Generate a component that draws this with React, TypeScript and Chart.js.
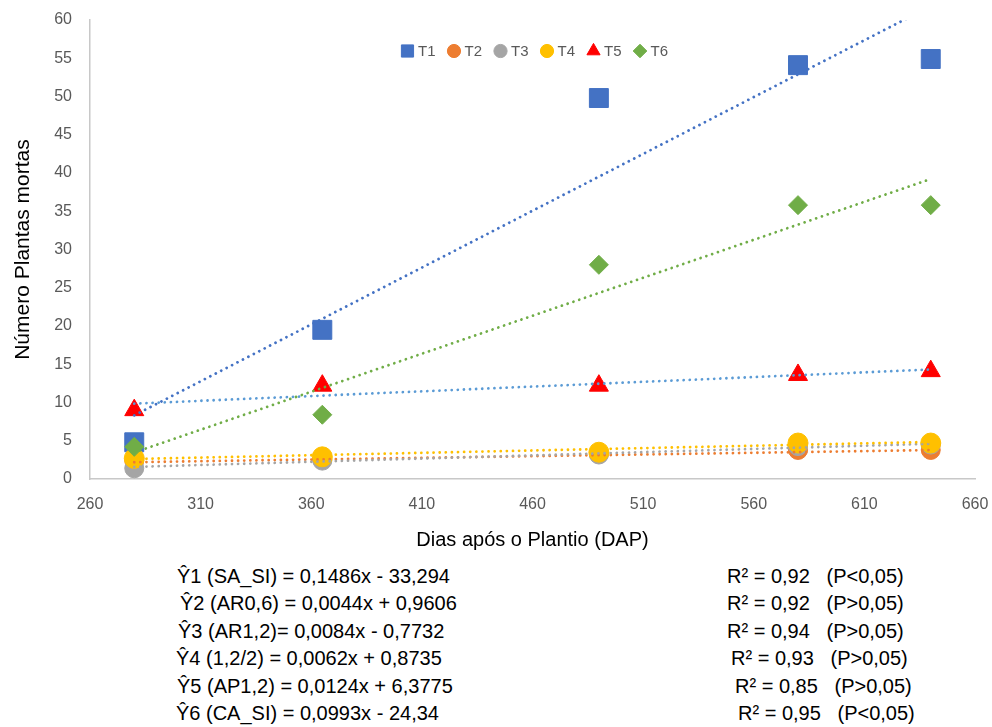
import React, { useEffect, useRef } from "react";
import { Chart, registerables } from "chart.js";
import { drawPoint } from "chart.js/helpers";

Chart.register(...registerables);

// ---------- data ----------
const days = [280, 365, 490, 580, 640];
const seriesNames = ["T1", "T2", "T3", "T4", "T5", "T6"];
const t1 = [4.8, 19.5, 49.8, 54.1, 54.9];
const t2 = [2.4, 2.6, 3.3, 3.8, 3.8];
const t3 = [1.4, 2.4, 3.2, 4.3, 4.5];
const t4 = [2.7, 2.9, 3.5, 4.7, 4.7];
const t5 = [9.0, 12.2, 12.2, 13.6, 14.1];
const t6 = [4.2, 8.4, 28.0, 35.8, 35.8];
const seriesValues = [t1, t2, t3, t4, t5, t6];

// trendline coefficients (as printed under the chart)
const slopes = [0.1486, 0.0044, 0.0084, 0.0062, 0.0124, 0.0993];
const intercepts = [-33.294, 0.9606, -0.7732, 0.8735, 6.3775, -24.34];

const xMin = 260;
const xMax = 660;
const xStep = 50;
const yMin = 0;
const yMax = 60;
const yStep = 5;

const xTitle = "Dias após o Plantio (DAP)";
const yTitle = "Número Plantas mortas";

const equations = [
  "Ŷ1 (SA_SI) = 0,1486x - 33,294",
  "Ŷ2 (AR0,6) = 0,0044x + 0,9606",
  "Ŷ3 (AR1,2)= 0,0084x - 0,7732",
  "Ŷ4 (1,2/2) = 0,0062x + 0,8735",
  "Ŷ5 (AP1,2) = 0,0124x + 6,3775",
  "Ŷ6 (CA_SI) = 0,0993x - 24,34",
];
const rSquared = [
  "R² = 0,92   (P<0,05)",
  "R² = 0,92   (P>0,05)",
  "R² = 0,94   (P>0,05)",
  "R² = 0,93   (P>0,05)",
  "R² = 0,85   (P>0,05)",
  "R² = 0,95   (P<0,05)",
];

// ---------- styles ----------
const markerColors = ["#4472C4", "#ED7D31", "#A5A5A5", "#FFC000", "#FF0000", "#70AD47"];
const trendColors = ["#4472C4", "#ED7D31", "#A5A5A5", "#FFC000", "#5B9BD5", "#70AD47"];
const pointStyles = ["rect", "circle", "circle", "circle", "triangle", "rectRot"];
const pointRadii = [13.4, 9.5, 9.5, 10, 11, 9.5];
const legendRadii = [8.6, 6.6, 6.6, 6.6, 7.6, 6.8];

const eqLayout = [
  { x: 177, rx: 727, y: 576 },
  { x: 180, rx: 727, y: 603 },
  { x: 178, rx: 727, y: 631 },
  { x: 176, rx: 731, y: 658 },
  { x: 177, rx: 735, y: 686 },
  { x: 176, rx: 738, y: 713 },
];

const FONT = "'Liberation Sans', Arial, sans-serif";

const legendPlugin = {
  id: "insideLegend",
  afterDraw(chart: any) {
    const ctx = chart.ctx as CanvasRenderingContext2D;
    const { left, right } = chart.chartArea;
    ctx.save();
    ctx.font = `15px ${FONT}`;
    const markerW = 13;
    const gapText = 4;
    const spacing = 12;
    const widths = seriesNames.map((n) => markerW + gapText + ctx.measureText(n).width);
    const total = widths.reduce((a, b) => a + b, 0) + spacing * (seriesNames.length - 1);
    let x = (left + right) / 2 + 2 - total / 2;
    const y = 51;
    seriesNames.forEach((n, i) => {
      ctx.fillStyle = markerColors[i];
      ctx.strokeStyle = markerColors[i];
      ctx.lineWidth = 1;
      drawPoint(
        ctx,
        { pointStyle: pointStyles[i] as any, radius: legendRadii[i], rotation: 0, borderWidth: 1 },
        x + markerW / 2,
        y
      );
      ctx.fillStyle = "#595959";
      ctx.textBaseline = "middle";
      ctx.textAlign = "left";
      ctx.fillText(n, x + markerW + gapText, y + 1);
      x += widths[i] + spacing;
    });
    ctx.restore();
  },
};

export default function App() {
  const ref = useRef<HTMLCanvasElement>(null);

  useEffect(() => {
    const markerSets = seriesNames.map((name, i) => ({
      label: name,
      data: days.map((d, j) => ({ x: d, y: seriesValues[i][j] })),
      showLine: false,
      pointStyle: pointStyles[i],
      pointRadius: pointRadii[i],
      pointHoverRadius: pointRadii[i],
      backgroundColor: markerColors[i],
      borderColor: markerColors[i],
      pointBorderWidth: 1,
      borderWidth: 1,
      order: 20 - i,
    }));
    const lo = Math.min(...days);
    const hi = Math.max(...days);
    const trendSets = seriesNames.map((name, i) => ({
      label: "trend " + name,
      data: [lo, hi].map((x) => ({ x, y: slopes[i] * x + intercepts[i] })),
      showLine: true,
      pointRadius: 0,
      pointHoverRadius: 0,
      borderColor: trendColors[i],
      backgroundColor: trendColors[i],
      borderWidth: 2.8,
      borderDash: [0.01, 6.1],
      borderCapStyle: "round",
      fill: false,
      order: 6 - i,
    }));

    const chart = new Chart(ref.current!, {
      type: "scatter",
      data: { datasets: [...markerSets, ...trendSets] as any },
      plugins: [legendPlugin],
      options: {
        responsive: false,
        animation: false,
        events: [],
        layout: { padding: { left: 0, right: 17, top: 20, bottom: 0 } },
        plugins: {
          tooltip: { enabled: false },
          legend: { display: false },
        },
        scales: {
          x: {
            type: "linear",
            min: xMin,
            max: xMax,
            afterFit: (s: any) => {
              s.height = 81;
              s.paddingLeft = 0;
              s.paddingRight = 0;
            },
            ticks: {
              stepSize: xStep,
              color: "#595959",
              font: { family: FONT, size: 16 },
              padding: 16,
            },
            grid: { display: false, drawTicks: false },
            border: { display: true, color: "#C8C8C8", width: 1.5 },
            title: {
              display: true,
              text: xTitle,
              color: "#000000",
              font: { family: FONT, size: 20 },
              padding: { top: 0, bottom: 8 },
            },
          },
          y: {
            type: "linear",
            min: yMin,
            max: yMax,
            afterFit: (s: any) => {
              s.width = 90;
              s.paddingTop = 0;
              s.paddingBottom = 0;
            },
            ticks: {
              stepSize: yStep,
              color: "#595959",
              font: { family: FONT, size: 16 },
              padding: 18,
            },
            grid: { display: false, drawTicks: false },
            border: { display: true, color: "#C8C8C8", width: 1.5 },
            title: {
              display: true,
              text: yTitle,
              color: "#000000",
              font: { family: FONT, size: 21 },
              padding: { top: 11, bottom: 0 },
            },
          },
        },
      },
    });
    return () => chart.destroy();
  }, []);

  return (
    <div
      style={{
        position: "fixed",
        left: 0,
        top: 0,
        width: 992,
        height: 727,
        background: "#ffffff",
        overflow: "hidden",
      }}
    >
      <canvas
        ref={ref}
        width={992}
        height={560}
        style={{ position: "absolute", left: 0, top: 0, width: 992, height: 560 }}
      />
      {equations.map((eq, i) => (
        <div
          key={"eq" + i}
          style={{
            position: "absolute",
            left: eqLayout[i].x,
            top: eqLayout[i].y - 12,
            lineHeight: "24px",
            fontFamily: FONT,
            fontSize: 20,
            color: "#000",
            whiteSpace: "pre",
          }}
        >
          {eq}
        </div>
      ))}
      {rSquared.map((r, i) => (
        <div
          key={"r" + i}
          style={{
            position: "absolute",
            left: eqLayout[i].rx,
            top: eqLayout[i].y - 12,
            lineHeight: "24px",
            fontFamily: FONT,
            fontSize: 20,
            color: "#000",
            whiteSpace: "pre",
          }}
        >
          {r}
        </div>
      ))}
    </div>
  );
}
